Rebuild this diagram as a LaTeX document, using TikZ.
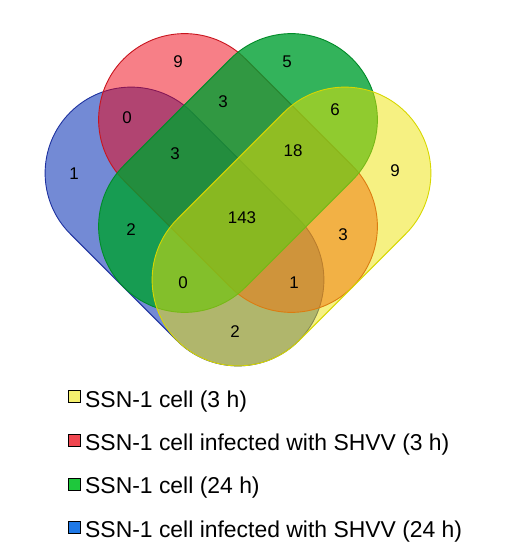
\documentclass[tikz,border=0pt]{standalone}
\usepackage{fontspec}
\setmainfont{Liberation Sans}
\usepackage{tikz}
\usetikzlibrary{shapes.misc}

\definecolor{bluefill}{RGB}{40,75,190}
\definecolor{blueline}{RGB}{30,50,160}
\definecolor{redfill}{RGB}{240,0,15}
\definecolor{redline}{RGB}{200,20,30}
\definecolor{greenfill}{RGB}{0,160,50}
\definecolor{greenline}{RGB}{0,140,40}
\definecolor{yellowfill}{RGB}{238,228,5}
\definecolor{yellowline}{RGB}{215,215,0}
\definecolor{keyyellow}{RGB}{245,240,110}
\definecolor{keyred}{RGB}{240,70,80}
\definecolor{keygreen}{RGB}{30,200,60}
\definecolor{keyblue}{RGB}{30,120,230}

\begin{document}
\begin{tikzpicture}[x=1bp, y=-1bp,
    setbox/.style={rounded rectangle, minimum width=323bp, minimum height=172bp, inner sep=0pt, line width=0.9bp},
    num/.style={font=\fontsize{17}{20}\selectfont, inner sep=0pt},
    legkey/.style={draw=black, line width=0.9bp, minimum size=12bp, inner sep=0pt},
    legtext/.style={font=\fontsize{23}{27}\selectfont, anchor=base west, inner sep=0pt}]
    \useasboundingbox (0,0) rectangle (515,550);
    % the four sets
    \node[setbox, rotate=-45, fill=bluefill, fill opacity=0.65, draw=blueline] (blueset) at (184.5,226.5) {};
    \node[setbox, rotate=-45, fill=redfill, fill opacity=0.5, draw=redline] (redset) at (238,173) {};
    \node[setbox, rotate=45, fill=greenfill, fill opacity=0.8, draw=greenline] (greenset) at (238,173) {};
    \node[setbox, rotate=45, fill=yellowfill, fill opacity=0.5, draw=yellowline] (yellowset) at (291.5,226.5) {};
    % counts
    \node[num] (n-r) at (178,62) {9};
    \node[num] (n-g) at (287,62) {5};
    \node[num] (n-rb) at (127,118) {0};
    \node[num] (n-rg) at (223,102) {3};
    \node[num] (n-gy) at (335,110) {6};
    \node[num] (n-b) at (74,174) {1};
    \node[num] (n-rgb) at (175,154) {3};
    \node[num] (n-rgy) at (293,151) {18};
    \node[num] (n-y) at (395,171) {9};
    \node[num] (n-all) at (242,218) {143};
    \node[num] (n-bg) at (131,230) {2};
    \node[num] (n-ry) at (343,235) {3};
    \node[num] (n-bgy) at (183,283) {0};
    \node[num] (n-rby) at (294,283) {1};
    \node[num] (n-by) at (235,332) {2};
    % legend
    \node[legkey, fill=keyyellow] (k-y) at (74.5,396) {};
    \node[legkey, fill=keyred] (k-r) at (74.5,440) {};
    \node[legkey, fill=keygreen] (k-g) at (74.5,484) {};
    \node[legkey, fill=keyblue] (k-b) at (74.5,527) {};
    \node[legtext] (t-y) at (85,407) {SSN-1 cell (3 h)};
    \node[legtext] (t-r) at (85,450) {SSN-1 cell infected with SHVV (3 h)};
    \node[legtext] (t-g) at (85,493) {SSN-1 cell (24 h)};
    \node[legtext] (t-b) at (85,537) {SSN-1 cell infected with SHVV (24 h)};
\end{tikzpicture}
\end{document}
